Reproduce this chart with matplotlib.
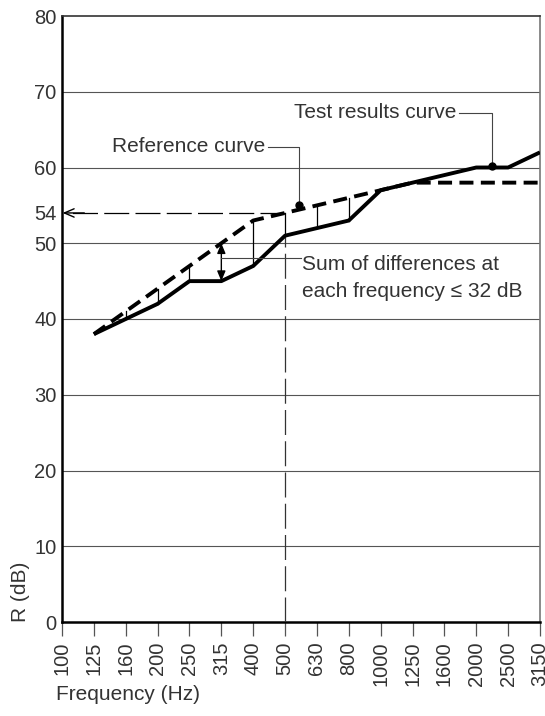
import matplotlib.pyplot as plt
import numpy as np

plt.rcParams['font.family'] = ['Liberation Sans', 'DejaVu Sans']

# Frecuencias de tercio de octava y curvas
freqs = ['100', '125', '160', '200', '250', '315', '400', '500', '630',
         '800', '1000', '1250', '1600', '2000', '2500', '3150']
ref_curve = [38, 41, 44, 47, 50, 53, 54, 55, 56, 57, 58, 58, 58, 58, 58]   # desde 125 Hz
test_curve = [38, 40, 42, 45, 45, 47, 51, 52, 53, 57, 58, 59, 60, 60, 62]  # desde 125 Hz
y_ticks = [0, 10, 20, 30, 40, 50, 54, 60, 70, 80]
rw = 54

txt = '#333333'
fs_tick = 14.5
fs_txt = 15
x = np.arange(len(freqs))
xc = x[1:]

fig = plt.figure(figsize=(5.45, 7.16), dpi=100)
ax = fig.add_axes([62/545, 94/716, 478/545, 606/716])

# cuadricula horizontal
for g in range(10, 80, 10):
    ax.axhline(g, color='#555555', lw=0.8, zorder=1)

# curvas
ax.plot(xc, ref_curve, color='black', lw=2.8, ls=(0, (3.6, 1.9)),
        solid_capstyle='butt', zorder=4)
ax.plot(xc, test_curve, color='black', lw=2.8, solid_capstyle='butt', zorder=5)

# diferencias entre curvas
i315 = freqs.index('315')
for i in range(len(xc)):
    r, t = ref_curve[i], test_curve[i]
    if r > t and xc[i] != i315:
        ax.plot([xc[i], xc[i]], [t, r], color='black', lw=0.9, zorder=3)

ax.annotate('', xy=(i315, ref_curve[i315 - 1]), xytext=(i315, test_curve[i315 - 1]),
            arrowprops=dict(arrowstyle='<|-|>,head_length=0.6,head_width=0.25',
                            color='black', lw=1, shrinkA=0, shrinkB=0), zorder=6)

# lineas a 500 Hz y Rw
i500 = freqs.index('500')
ax.plot([i500, i500], [0, test_curve[i500 - 1]], color='#333333', lw=0.9,
        ls=(0, (20, 5)), zorder=3)
ax.plot([i500, 0.15], [rw, rw], color='black', lw=0.9, ls=(0, (20, 5)), zorder=3)
ax.annotate('', xy=(0.02, rw), xytext=(0.7, rw),
            arrowprops=dict(arrowstyle='->,head_length=0.7,head_width=0.3',
                            color='black', lw=1, shrinkA=0, shrinkB=0))

# etiquetas con lineas guia
ax.text(6.37, 62.0, 'Reference curve', ha='right', va='baseline', fontsize=fs_txt, color=txt)
ax.plot([6.45, 7.43, 7.43], [62.7, 62.7, 55.0], color='#444444', lw=0.8, zorder=6)
ax.plot(7.43, 55.0, 'o', color='black', ms=5, zorder=7)

ax.text(12.39, 66.5, 'Test results curve', ha='right', va='baseline', fontsize=fs_txt, color=txt)
ax.plot([12.47, 13.5, 13.5], [67.2, 67.2, 60.2], color='#444444', lw=0.8, zorder=6)
ax.plot(13.5, 60.2, 'o', color='black', ms=5, zorder=7)

ax.plot([i315, 7.5], [48.05, 48.05], color='#444444', lw=0.8, zorder=6)
ax.text(7.53, 46.5, 'Sum of differences at', ha='left', va='baseline', fontsize=fs_txt, color=txt)
ax.text(7.53, 42.9, 'each frequency \u2264 32 dB', ha='left', va='baseline', fontsize=fs_txt, color=txt)

# ejes
ax.set_xlim(0, len(freqs) - 1)
ax.set_ylim(0, 80)
ax.set_xticks(x)
ax.set_xticklabels(freqs, rotation=90, fontsize=fs_tick, color=txt)
ax.set_yticks(y_ticks)
ax.set_yticklabels([str(v) for v in y_ticks], fontsize=fs_tick, color=txt)
ax.tick_params(axis='y', length=0, pad=4)
ax.tick_params(axis='x', length=10, width=0.9, color='#555555', direction='out', pad=4)

ax.spines['left'].set_linewidth(1.8)
ax.spines['bottom'].set_linewidth(1.8)
ax.spines['top'].set_linewidth(1.2)
ax.spines['top'].set_color('#333333')
ax.spines['right'].set_linewidth(1.2)
ax.spines['right'].set_color('#777777')

fig.text(56/545, 1 - 695/716, 'Frequency (Hz)', ha='left', va='center', fontsize=fs_txt, color=txt)
fig.text(20/545, 1 - 592/716, 'R (dB)', ha='center', va='center', rotation=90,
         fontsize=fs_txt, color=txt)

plt.savefig('out.png', dpi=100)
